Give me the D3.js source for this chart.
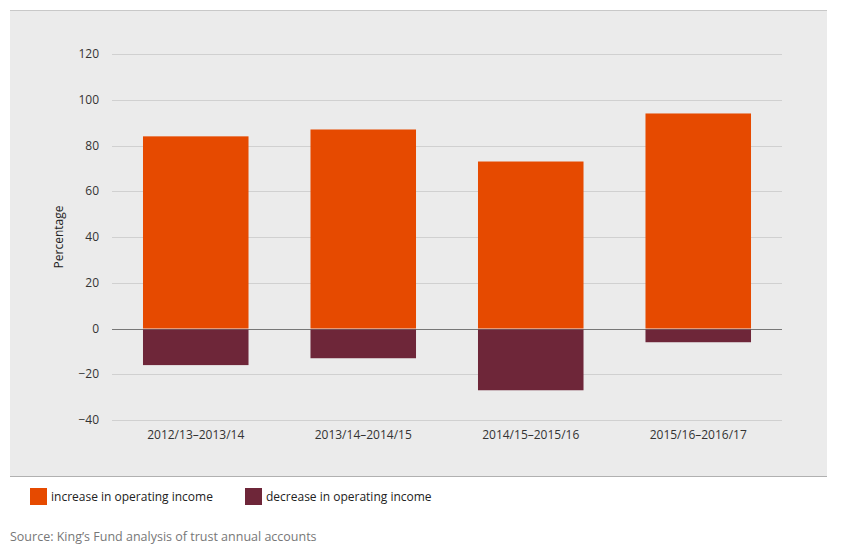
<!DOCTYPE html>
<html><head><meta charset="utf-8">
<script src="https://cdn.jsdelivr.net/npm/d3@7"></script>
<style>body{margin:0;background:#fff;font-family:"Open Sans",sans-serif;}</style>
</head><body>
<script>
// Data
const periods = ["2012/13\u20132013/14", "2013/14\u20132014/15", "2014/15\u20132015/16", "2015/16\u20132016/17"];
const increase = [84, 87, 73, 94];
const decrease = [-16, -13, -27, -6];
const yTicks = [-40, -20, 0, 20, 40, 60, 80, 100, 120];

const W = 843, H = 552;
const svg = d3.select("body").append("svg").attr("width", W).attr("height", H);

// grey panel
svg.append("rect").attr("x", 10).attr("y", 10).attr("width", 817).attr("height", 466).attr("fill", "#ebebeb");
svg.append("line").attr("x1", 10).attr("x2", 827).attr("y1", 10.5).attr("y2", 10.5).attr("stroke", "#c8c8c8");
svg.append("line").attr("x1", 10).attr("x2", 827).attr("y1", 476.5).attr("y2", 476.5).attr("stroke", "#b0b0b0");

const x = d3.scaleBand().domain(periods).range([112, 782]).paddingInner(0.37).paddingOuter(0.185);
const y = d3.scaleLinear().domain([-40, 120]).range([420, 54]);

// grid
svg.append("g").selectAll("line").data(yTicks).join("line")
  .attr("x1", 112).attr("x2", 782)
  .attr("y1", d => Math.round(y(d)) + 0.5).attr("y2", d => Math.round(y(d)) + 0.5)
  .attr("stroke", d => d === 0 ? "#777" : "#d0d0d0");

// y axis labels
svg.append("g").selectAll("text").data(yTicks).join("text")
  .attr("x", 99).attr("y", d => y(d) + 4).attr("text-anchor", "end")
  .attr("font-size", 12).attr("fill", "#333").text(d => d === -40 || d === -20 ? "\u2212" + Math.abs(d) : d);

svg.append("text").attr("transform", `translate(63,${y(40)}) rotate(-90)`)
  .attr("text-anchor", "middle").attr("font-size", 12).attr("fill", "#222").text("Percentage");

// bars
svg.append("g").selectAll("rect").data(periods).join("rect")
  .attr("x", d => x(d)).attr("width", x.bandwidth())
  .attr("y", (d, i) => y(increase[i])).attr("height", (d, i) => y(0) - y(increase[i]))
  .attr("fill", "#e64a00");
svg.append("g").selectAll("rect").data(periods).join("rect")
  .attr("x", d => x(d)).attr("width", x.bandwidth())
  .attr("y", y(0) + 1).attr("height", (d, i) => y(decrease[i]) - y(0) - 1)
  .attr("fill", "#6e2639");

// x labels
svg.append("g").selectAll("text").data(periods).join("text")
  .attr("x", d => x(d) + x.bandwidth() / 2).attr("y", 439).attr("text-anchor", "middle")
  .attr("font-size", 12).attr("fill", "#333").text(d => d);

// legend
const legend = [["increase in operating income", "#e64a00", 30], ["decrease in operating income", "#6e2639", 245]];
legend.forEach(([t, c, lx]) => {
  svg.append("rect").attr("x", lx).attr("y", 488).attr("width", 17).attr("height", 17).attr("fill", c);
  svg.append("text").attr("x", lx + 21).attr("y", 501).attr("font-size", 12).attr("fill", "#222").text(t);
});

svg.append("text").attr("x", 10).attr("y", 541).attr("font-size", 12.5).attr("fill", "#777")
  .text("Source: King\u2019s Fund analysis of trust annual accounts");
</script>
</body></html>
